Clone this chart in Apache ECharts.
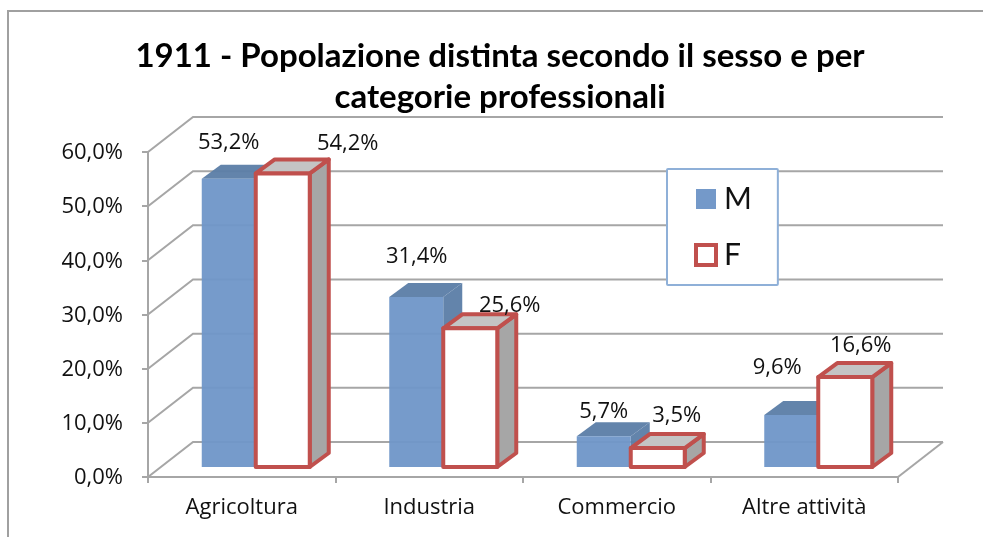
<!DOCTYPE html>
<html><head><meta charset="utf-8">
<style>html,body{margin:0;padding:0;background:#fff}#c{width:983px;height:537px;filter:blur(0.6px)}</style>
<script src="https://cdn.jsdelivr.net/npm/echarts@6/dist/echarts.min.js"></script>
</head><body><div id="c"></div>
<script>
const categories = ['Agricoltura', 'Industria', 'Commercio', 'Altre attività'];
const valuesM = [53.2, 31.4, 5.7, 9.6];
const valuesF = [54.2, 25.6, 3.5, 16.6];
const yTicks = [0, 10, 20, 30, 40, 50, 60];
const titleLines = '1911 - Popolazione distinta secondo il sesso e per\ncategorie professionali';

// Layout / style constants
const FONT = 'Lato, "Open Sans", sans-serif';
const LABEL_FONT = '"Open Sans", Lato, sans-serif';
const LABEL_SIZE = 22;
const WALL = [45, -35];
const BAR_FRONT = [14, -10];
const BAR_DEPTH = [19, -14];
const BAR_W = 0.288;
const GREY = '#a6a6a6';
const nudgeM = [[-26, -22], [-25.5, -26], [-26, -10], [-40, -33]];
const nudgeF = [[93, -16], [67.5, -9], [47, -18], [43.5, -17]];

const pct = v => v.toFixed(1).replace('.', ',') + '%';

function wallItem(params, api) {
  const cs = params.coordSys;
  const y = api.coord([0, api.value(1)])[1];
  const x0 = cs.x, x1 = cs.x + cs.width;
  return {
    type: 'polyline', silent: true,
    shape: { points: [[x0, y], [x0 + WALL[0], y + WALL[1]], [x1 + WALL[0], y + WALL[1]]] },
    style: { fill: null, stroke: GREY, lineWidth: 2 }
  };
}
function floorItem(params) {
  const cs = params.coordSys;
  const yb = cs.y + cs.height, x1 = cs.x + cs.width;
  return {
    type: 'line', silent: true,
    shape: { x1: x1, y1: yb, x2: x1 + WALL[0], y2: yb + WALL[1] },
    style: { stroke: GREY, lineWidth: 2 }
  };
}
function barRenderer(sign, st, nudge) {
  return function (params, api) {
    const i = api.value(0), v = api.value(1);
    const top = api.coord([i, v]), base = api.coord([i, 0]);
    const w = api.size([1, 0])[0] * BAR_W;
    const xl = top[0] + BAR_FRONT[0] + (sign < 0 ? -w : 0);
    const xr = xl + w;
    const yt = top[1] + BAR_FRONT[1], yb = base[1] + BAR_FRONT[1];
    const dx = BAR_DEPTH[0], dy = BAR_DEPTH[1];
    const common = { stroke: st.stroke, lineWidth: st.lineWidth, lineJoin: 'round' };
    const poly = (pts, fill) => ({ type: 'polygon', silent: true, shape: { points: pts }, style: Object.assign({ fill: fill, opacity: st.opacity }, common) });
    return {
      type: 'group',
      children: [
        poly([[xr, yt], [xr + dx, yt + dy], [xr + dx, yb + dy], [xr, yb]], st.side),
        poly([[xl, yt], [xl + dx, yt + dy], [xr + dx, yt + dy], [xr, yt]], st.top),
        poly([[xl, yt], [xr, yt], [xr, yb], [xl, yb]], st.front),
        { type: 'text', silent: true, z2: 10,
          style: { x: (sign < 0 ? xr : xl) + nudge[i][0] - 1, y: yt + dy + nudge[i][1], text: pct(v),
            font: LABEL_SIZE + 'px ' + LABEL_FONT, fill: '#111', align: 'center', verticalAlign: 'middle' } }
      ]
    };
  };
}

const chart = echarts.init(document.getElementById('c'), null, { renderer: 'canvas' });
chart.setOption({
  animation: false,
  backgroundColor: '#fff',
  graphic: [{ type: 'rect', silent: true, z: -1, shape: { x: 8, y: 11, width: 1100, height: 600 },
    style: { fill: '#fff', stroke: '#a0a0a0', lineWidth: 2 } }],
  title: { text: titleLines, left: 495, top: 31, textAlign: 'center',
    textStyle: { fontFamily: FONT, fontWeight: 'bold', fontSize: 33, lineHeight: 41, color: '#000' } },
  grid: { left: 148, right: 85, top: 152, bottom: 60 },
  xAxis: { type: 'category', data: categories,
    axisLine: { lineStyle: { color: GREY, width: 2 } },
    axisTick: { show: true, length: 6, lineStyle: { color: GREY, width: 2 } },
    axisLabel: { fontFamily: LABEL_FONT, fontSize: LABEL_SIZE, color: '#111', margin: 20, interval: 0 } },
  yAxis: { type: 'value', min: 0, max: 60, interval: 10,
    axisLine: { show: true, lineStyle: { color: GREY, width: 2 } },
    axisTick: { show: true, length: 6, lineStyle: { color: GREY, width: 2 } },
    splitLine: { show: false },
    axisLabel: { fontFamily: LABEL_FONT, fontSize: LABEL_SIZE, color: '#111', margin: 25, verticalAlign: 'top', lineHeight: 2, formatter: v => pct(v) } },
  legend: { orient: 'vertical', left: 667, top: 169, padding: [15, 26, 15, 27], itemWidth: 20, itemHeight: 20, itemGap: 26,
    backgroundColor: '#fff', borderColor: '#8fb0d8', borderWidth: 2, borderRadius: 1, selectedMode: false, z: 20,
    textStyle: { fontFamily: FONT, fontSize: 30, color: '#111', padding: [0, 0, 0, 3] },
    data: [
      { name: 'M', icon: 'rect', itemStyle: { color: '#7499c9', borderWidth: 0 } },
      { name: 'F', icon: 'rect', itemStyle: { color: '#fff', borderColor: '#c0504d', borderWidth: 4 } }
    ] },
  series: [
    { type: 'custom', name: 'griglia', renderItem: wallItem, clip: false, z: 1, silent: true,
      encode: { x: 0, y: 1 }, data: yTicks.map(t => [0, t]) },
    { type: 'custom', name: 'pavimento', renderItem: floorItem, clip: false, z: 1, silent: true,
      encode: { x: 0, y: 1 }, data: [[0, 0]] },
    { type: 'custom', name: 'M', clip: false, z: 3, encode: { x: 0, y: 1 }, itemStyle: { color: '#7499c9' },
      renderItem: barRenderer(-1, { stroke: null, lineWidth: 0, front: '#6f96c8', top: '#5b7da6', side: '#5b7da6', opacity: 0.95 }, nudgeM),
      data: valuesM.map((v, i) => [i, v]) },
    { type: 'custom', name: 'F', clip: false, z: 4, encode: { x: 0, y: 1 }, itemStyle: { color: '#fff' },
      renderItem: barRenderer(1, { stroke: '#c0504d', lineWidth: 4, front: '#fff', top: '#c4c4c4', side: '#a6a6a6', opacity: 1 }, nudgeF),
      data: valuesF.map((v, i) => [i, v]) }
  ]
});
</script></body></html>
